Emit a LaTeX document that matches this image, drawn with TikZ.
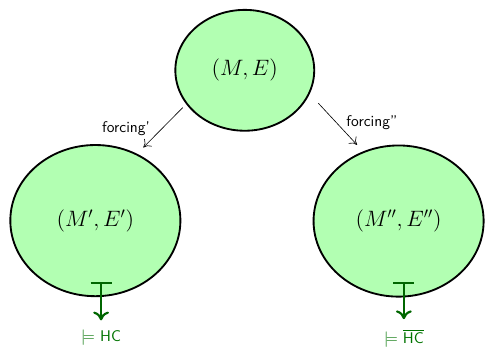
\documentclass[tikz,border=0pt]{standalone}
\usepackage{amsmath,amssymb}
\usepackage{xcolor}
\usepackage{tikz}
\usetikzlibrary{positioning,arrows.meta,calc,shapes.geometric}

\begin{document}
\begin{tikzpicture}[world/.style={draw,line width=1.2pt,ellipse,fill=green!30,
                                  inner sep=0pt,font=\Large},
                    forcearr/.style={-{To[length=1.6mm,width=2.4mm]},thin},
                    mapsto/.style={{Bar[width=4.8mm]}-{To[length=2mm,width=3.6mm]},
                                   line width=1.4pt,draw=green!40!black},
                    verdict/.style={font=\sffamily,text=green!45!black}]

  \useasboundingbox (0,0) rectangle (11.15,-7.92);

  \node[world,minimum width=3.16cm,minimum height=2.75cm] (top)   at (5.57,-1.60) {$(M,E)$};
  \node[world,minimum width=3.87cm,minimum height=3.44cm] (left)  at (2.17,-5.02) {$(M',E')$};
  \node[world,minimum width=3.87cm,minimum height=3.44cm] (right) at (9.07,-5.03) {$(M'',E'')$};

  \node[verdict] (hcl) at (2.30,-7.69) {$\models$ HC};
  \node[verdict] (hcr) at (9.19,-7.69) {$\models$ $\overline{\mbox{HC}}$};

  \draw[forcearr,shorten <=0.11cm,shorten >=0.2cm] (top.210) -- node[left=4pt]{\sffamily forcing'} (left.58);
  \draw[forcearr,shorten <=0.29cm,shorten >=0.2cm] (top.340) -- node[right=3pt]{\sffamily forcing''} (right.117);

  \draw[mapsto,shorten >=0.1cm] ($(left.south -| hcl)+(0,0.35)$) -- (hcl.north);
  \draw[mapsto,shorten >=0.1cm] ($(right.south -| hcr)+(0,0.35)$) -- (hcr.north);
\end{tikzpicture}
\end{document}
